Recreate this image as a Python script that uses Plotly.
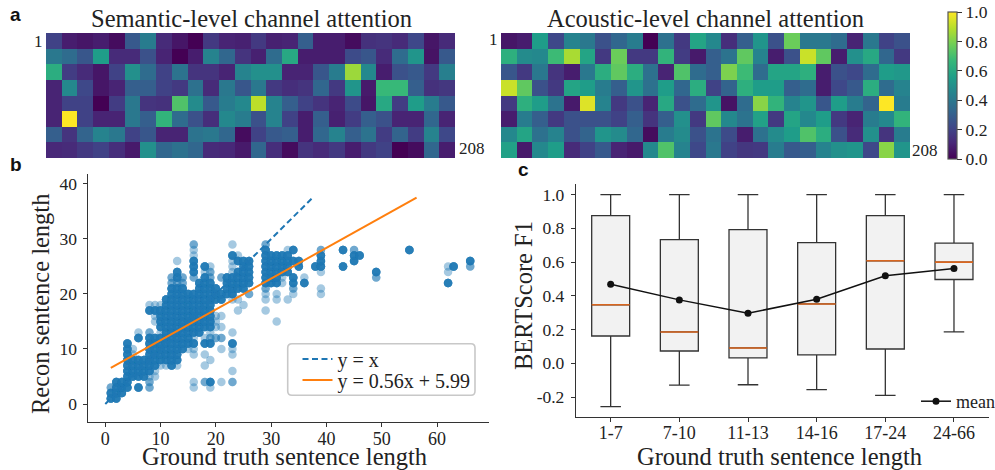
import plotly.graph_objects as go

W, H = 995, 470
SERIF = "Liberation Serif"
INK = "#222222"
BLUE = "#1f77b4"
ORANGE = "#ff7f0e"

# ---------- panel a ----------
semantic = [
    [.20,.08,.06,.08,.03,.28,.42,.12,.06,.00,.17,.10,.09,.17,.09,.10,.30,.08,.08,.03,.14,.15,.12,.22,.06,.12],
    [.40,.35,.27,.55,.12,.12,.25,.10,.00,.08,.45,.33,.15,.09,.35,.60,.08,.08,.08,.23,.27,.12,.35,.52,.05,.28],
    [.62,.18,.12,.06,.20,.50,.35,.20,.38,.15,.15,.10,.45,.50,.50,.10,.10,.27,.42,.85,.47,.08,.25,.28,.17,.43],
    [.10,.47,.22,.06,.10,.30,.30,.20,.17,.37,.12,.40,.27,.40,.17,.13,.15,.33,.17,.52,.07,.67,.67,.30,.14,.16],
    [.10,.20,.20,.00,.18,.40,.15,.14,.72,.48,.28,.42,.47,.90,.45,.30,.20,.15,.10,.23,.06,.60,.18,.55,.42,.28],
    [.10,1.0,.20,.10,.10,.40,.30,.65,.35,.25,.13,.47,.42,.25,.45,.20,.08,.30,.09,.18,.30,.25,.10,.10,.33,.10],
    [.30,.15,.32,.45,.40,.20,.27,.10,.10,.38,.40,.33,.03,.20,.28,.30,.08,.33,.45,.30,.38,.18,.32,.18,.45,.22],
    [.11,.12,.17,.20,.13,.07,.50,.33,.37,.33,.12,.11,.07,.33,.13,.03,.15,.12,.17,.08,.17,.20,.00,.03,.33,.08],
]
acoustic = [
    [.06,.08,.55,.22,.45,.40,.25,.33,.42,.00,.37,.17,.58,.47,.13,.30,.52,.25,.77,.40,.40,.35,.10,.40,.20,.25],
    [.63,.48,.47,.68,.87,.58,.17,.77,.17,.17,.65,.18,.07,.30,.38,.75,.45,.08,.25,.92,.75,.08,.50,.60,.33,.17],
    [.27,.17,.40,.15,.08,.40,.62,.75,.62,.37,.10,.72,.35,.30,.80,.68,.35,.58,.58,.63,.08,.25,.22,.35,.55,.53],
    [.92,.75,.25,.17,.58,.55,.42,.30,.52,.37,.55,.33,.62,.20,.32,.63,.55,.55,.30,.35,.08,.22,.28,.62,.35,.45],
    [.17,.63,.55,.38,.07,.95,.45,.17,.25,.10,.60,.25,.35,.52,.05,.35,.82,.65,.45,.52,.27,.55,.42,.32,1.0,.42],
    [.08,.42,.30,.17,.25,.25,.25,.20,.30,.15,.30,.50,.17,.75,.47,.38,.57,.17,.58,.47,.55,.17,.10,.42,.47,.65],
    [.47,.58,.37,.45,.25,.32,.52,.48,.33,.03,.42,.48,.25,.38,.23,.08,.37,.48,.55,.72,.62,.25,.12,.50,.15,.42],
    [.57,.07,.47,.55,.12,.20,.28,.10,.07,.47,.72,.45,.22,.40,.20,.16,.17,.42,.28,.30,.45,.50,.52,.22,.82,.52],
]

# ---------- panel b: recon length per ground-truth length ----------
dense_pts = {
    1:[1,2], 2:[1,2,3,4], 3:[2,3,4], 4:[3,4,5,6,7,8,9,10,11], 5:[5,6,7,8],
    6:[3,5,6,7,8,12], 7:[5,6,7,8], 8:[6,7,8,9,10,11,12,17], 9:[7,8,9,10,11,12,17],
    10:[8,9,10,11,12,14,15,16,17], 11:[8,9,10,11,12,13,14,15,16,17,18,19],
    12:[7,8,9,10,11,12,13,14,15,16,17,18,19,20,21],
    13:[8,9,10,11,12,13,14,15,16,17,18,19,20,21,23,24],
    14:[10,11,12,13,14,15,16,17,18,19,20,21], 15:[11,12,13,14,15,16,17,18,19,20],
    16:[11,13,14,15,16,17,18,19,20,24,25,26], 17:[13,14,15,16,17,18,19,20,21,22],
    18:[11,14,15,16,17,18,19,20,21,22,23,25], 19:[4,11,14,15,16,17,18,19,20,21,22],
    20:[19,20,21], 21:[19,20], 22:[20,21,22,23], 23:[11,20,21,22,23,27],
    24:[21,22,23,24,26], 25:[21,22,23,24,25,26], 26:[22,23,24,25,26],
    29:[22,23,24,25,26,27,28], 30:[22,23,24,25,26,27], 31:[22,23,24,25,26,27],
    32:[24,25,26,27], 33:[24,25,26,27], 34:[22,23,26,28], 35:[25,26], 36:[22],
    38:[25], 39:[25,26,27], 43:[25,28], 45:[26,27], 46:[27], 49:[24], 55:[28],
    62:[22], 63:[25], 66:[26],
}
mid_pts = {
    1:[3], 8:[3,4,13], 12:[22,23], 13:[22], 14:[22,23], 16:[23,29], 18:[4], 19:[12,23,24],
    20:[12], 21:[12,23], 23:[4], 26:[20], 29:[21,29], 34:[21], 39:[28], 45:[28], 49:[23], 66:[25],
}
light_pts = {
    5:[9,10], 6:[13], 8:[5,18], 9:[5,6,15,16,18], 10:[7,13,18], 11:[7], 13:[7,26], 15:[10],
    16:[3,4,9,10,12,27,28], 18:[7,9,12,24], 19:[3,8,13,25], 20:[14,15,16], 21:[4,10,14,16],
    23:[6,9,10,13,19,20,21,24,25,26,29], 24:[17,19,27], 25:[18], 29:[17,19,20],
    31:[15,19,20], 32:[22,23], 33:[19,28], 34:[20], 36:[23], 39:[20,21,24], 62:[24,25],
}
identity_x = [0, 37.5]
identity_y = [0, 37.5]
fit_x = [1, 56.3]
fit_y = [6.55, 37.5]

# ---------- panel c ----------
groups = ["1-7", "7-10", "11-13", "14-16", "17-24", "24-66"]
q1 = [0.162, 0.073, 0.032, 0.050, 0.085, 0.497]
med = [0.347, 0.186, 0.091, 0.352, 0.608, 0.600]
q3 = [0.875, 0.733, 0.792, 0.715, 0.875, 0.713]
lo = [-0.257, -0.129, -0.127, -0.156, -0.190, 0.186]
hi = [1.0, 1.0, 1.0, 1.0, 1.0, 1.0]
mean = [0.469, 0.376, 0.297, 0.380, 0.519, 0.562]
f1_ticks = [-0.2, 0.0, 0.2, 0.4, 0.6, 0.8, 1.0]
f1_labels = ["-0.2", "0.0", "0.2", "0.4", "0.6", "0.8", "1.0"]


def px(v): return v / W
def py(v): return 1 - v / H


def note(text, x, y, size=17, xanchor="center", yanchor="middle", family=SERIF, color=INK, angle=0):
    return dict(text=text, x=px(x), y=py(y), xref="paper", yref="paper", xanchor=xanchor, yanchor=yanchor,
                showarrow=False, textangle=angle, font=dict(family=family, size=size, color=color))


sc_x, sc_y = [], []
for table, times in ((light_pts, 1), (mid_pts, 2), (dense_pts, 6)):
    for gt, ys in table.items():
        for y in ys:
            sc_x += [gt] * times
            sc_y += [y] * times

fig = go.Figure()
fig.add_trace(go.Heatmap(z=semantic, coloraxis="coloraxis", xaxis="x", yaxis="y"))
fig.add_trace(go.Heatmap(z=acoustic, coloraxis="coloraxis", xaxis="x2", yaxis="y2"))

fig.add_trace(go.Scatter(x=sc_x, y=sc_y, mode="markers", xaxis="x3", yaxis="y3", showlegend=False,
                         marker=dict(size=8.5, color=BLUE, opacity=0.4, line=dict(width=0))))
fig.add_trace(go.Scatter(x=identity_x, y=identity_y, mode="lines", xaxis="x3", yaxis="y3", name="y = x",
                         line=dict(color=BLUE, width=2, dash="6px,3.5px")))
fig.add_trace(go.Scatter(x=fit_x, y=fit_y, mode="lines", xaxis="x3", yaxis="y3", name="y = 0.56x + 5.99",
                         legend="legend3", line=dict(color=ORANGE, width=2)))

fig.add_trace(go.Box(x=groups, q1=q1, median=med, q3=q3, lowerfence=lo, upperfence=hi, xaxis="x4", yaxis="y4",
                     width=0.553, whiskerwidth=0.54, fillcolor="#f2f2f2", line=dict(color="#333333", width=1.3),
                     boxpoints=False, showlegend=False))
fig.add_trace(go.Box(x=groups, q1=med, median=med, q3=med, lowerfence=med, upperfence=med, xaxis="x4", yaxis="y4",
                     width=0.553, whiskerwidth=0, fillcolor="rgba(0,0,0,0)", line=dict(color="#d9661f", width=1.6),
                     boxpoints=False, showlegend=False))
fig.add_trace(go.Scatter(x=groups, y=mean, mode="lines+markers", xaxis="x4", yaxis="y4", name="mean", legend="legend2",
                         line=dict(color="#111111", width=1.5), marker=dict(color="#111111", size=7)))

hidden = dict(visible=False, showgrid=False, zeroline=False)
line = dict(showline=True, linecolor="#333333", linewidth=1.3, ticks="outside", ticklen=4, tickwidth=1.2,
            tickcolor="#333333", showgrid=False, zeroline=False)
x_font = dict(family=SERIF, size=18, color=INK)
y_font = dict(family=SERIF, size=17.5, color=INK)
LEGEND = dict(xanchor="left", yanchor="middle", bgcolor="rgba(0,0,0,0)", borderwidth=0)

fig.update_layout(
    width=W, height=H, autosize=False, margin=dict(l=0, r=0, t=0, b=0, autoexpand=False),
    paper_bgcolor="white", plot_bgcolor="white", boxmode="overlay",
    font=dict(family=SERIF, color=INK, size=17),
    coloraxis=dict(colorscale="Viridis", cmin=0, cmax=1,
                   colorbar=dict(x=px(948), xanchor="left", xref="paper", xpad=0, thickness=9, thicknessmode="pixels",
                                 len=147, lenmode="pixels", y=py(12), yanchor="top", yref="paper", ypad=0,
                                 outlinecolor="#555555", outlinewidth=1.2, ticks="outside", ticklen=5, tickwidth=1.2,
                                 tickcolor="#333333", tickvals=[0, .2, .4, .6, .8, 1],
                                 ticktext=["0.0", "0.2", "0.4", "0.6", "0.8", "1.0"],
                                 tickfont=dict(family=SERIF, size=17.5, color=INK))),
    xaxis=dict(domain=[px(46), px(455)], range=[-0.5, 25.5], **hidden),
    yaxis=dict(domain=[py(158), py(33)], range=[7.5, -0.5], **hidden),
    xaxis2=dict(domain=[px(501), px(910)], range=[-0.5, 25.5], **hidden),
    yaxis2=dict(domain=[py(158), py(33)], range=[7.5, -0.5], **hidden),
    xaxis3=dict(domain=[px(87.7), px(489)], range=[-3.18, 69.4], anchor="y3", tickvals=[0, 10, 20, 30, 40, 50, 60],
                ticklabelstandoff=-4, tickfont=x_font, **line),
    yaxis3=dict(domain=[py(422), py(174)], range=[-3.27, 41.8], anchor="x3", tickvals=[0, 10, 20, 30, 40],
                ticklabelstandoff=2, tickfont=y_font, **line),
    xaxis4=dict(domain=[px(576), px(989)], range=[-0.505, 5.51], anchor="y4", type="category",
                categoryorder="array", categoryarray=groups, ticklabelstandoff=-5, tickfont=x_font, **line),
    yaxis4=dict(domain=[py(417.3), py(184)], range=[-0.32, 1.063], anchor="x4", tickvals=f1_ticks, ticktext=f1_labels,
                ticklabelstandoff=3, tickfont=y_font, **line),
    legend=dict(x=px(297.5), y=py(359), font=dict(family=SERIF, size=20, color=INK), **LEGEND),
    legend3=dict(x=px(297.5), y=py(380), font=dict(family=SERIF, size=20, color=INK), **LEGEND),
    legend2=dict(x=px(916), y=py(401.5), font=dict(family=SERIF, size=18, color=INK), **LEGEND),
    shapes=[dict(type="path", xref="paper", yref="paper", layer="below",
                 path=("M {0},{2} L {1},{2} Q {4},{2} {4},{3} L {4},{5} Q {4},{6} {1},{6} L {0},{6} "
                       "Q {7},{6} {7},{5} L {7},{3} Q {7},{2} {0},{2} Z").format(
                     px(292), px(471), py(343.7), py(348), px(475), py(391), py(395.3), px(287.7)),
                 line=dict(color="#c8c8c8", width=1.6), fillcolor="white")],
    annotations=[
        note("Semantic-level channel attention", 251.2, 34, size=24.5, yanchor="bottom"),
        note("Acoustic-level channel attention", 705.5, 34, size=24.5, yanchor="bottom"),
        note("1", 44.5, 41.5, xanchor="right"),
        note("1", 500, 39.5, xanchor="right"),
        note("208", 457, 148.7, xanchor="left"),
        note("208", 910, 150, xanchor="left"),
        note("<b>a</b>", 8, 14, size=19, xanchor="left", family="Liberation Sans", color="#111111"),
        note("<b>b</b>", 8, 164, size=19, xanchor="left", family="Liberation Sans", color="#111111"),
        note("<b>c</b>", 516, 170, size=19, xanchor="left", family="Liberation Sans", color="#111111"),
        note("Ground truth sentence length", 284, 456.5, size=24.5),
        note("Ground truth sentence length", 779, 456.5, size=24.5),
        note("Recon sentence length", 40, 304, size=24.5, angle=-90),
        note("BERTScore F1", 523, 296, size=24.5, angle=-90),
    ],
)
fig.write_html("out.html", config={"displayModeBar": False},
               post_script="document.body.style.margin='0';document.documentElement.style.overflow='hidden';")
